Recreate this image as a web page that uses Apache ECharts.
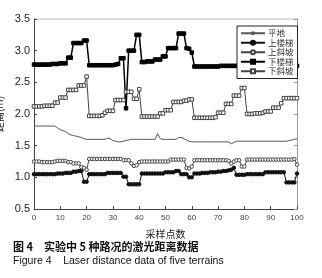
<!DOCTYPE html>
<html>
<head>
<meta charset="utf-8">
<script src="https://cdn.jsdelivr.net/npm/echarts@6/dist/echarts.min.js"></script>
<style>
  html, body { margin: 0; padding: 0; background: #fff; }
  #chart { width: 322px; height: 278px; }
</style>
</head>
<body>
<div id="chart"></div>
<script>
// sample index 0..100
var xTicks = [0, 10, 20, 30, 40, 50, 60, 70, 80, 90, 100];
var seriesNames = ['平地', '上楼梯', '上斜坡', '下楼梯', '下斜坡'];

var flat = [1.81,1.81,1.81,1.81,1.81,1.81,1.81,1.81,1.81,
  1.78,1.75,1.74,1.72,1.69,1.67,1.66,1.65,1.64,1.63,1.61,1.60,
  1.60,1.60,1.60,1.60,1.60,1.60,1.60,
  1.62,1.61,1.58,1.57,1.56,1.56,1.57,1.58,1.59,
  1.60,1.60,1.60,1.60,1.60,1.60,1.60,1.60,1.60,1.60,
  1.69,1.61,
  1.60,1.60,1.60,1.60,1.60,1.60,
  1.63,1.63,1.61,1.59,1.57,1.56,
  1.56,1.56,1.56,1.56,1.56,1.56,1.56,1.56,1.56,1.56,1.56,1.56,1.56,1.56,
  1.53,1.55,
  1.57,1.57,1.57,1.57,1.57,1.57,1.57,1.57,1.57,1.57,1.57,1.57,1.57,1.57,1.57,1.57,1.57,1.57,1.57,
  1.57,1.58,1.59,1.60,1.61];

var upStairs = [1.05,1.05,1.05,1.05,1.05,1.05,1.05,1.05,1.05,
  1.06,1.06,1.06,1.07,1.07,1.07,
  1.09,1.09,1.10,1.10,
  0.93,0.93,
  1.05,1.05,1.05,1.05,1.05,1.05,1.05,
  1.07,1.07,1.07,1.07,1.07,1.07,
  1.01,1.01,
  0.89,0.89,0.89,0.89,0.89,
  1.06,1.06,1.06,1.06,1.06,1.06,1.06,1.06,1.06,
  1.08,1.08,1.08,1.08,
  1.10,1.10,
  1.05,1.05,1.05,
  1.00,1.00,
  1.06,1.06,1.06,1.07,1.07,1.07,1.08,1.08,1.08,1.09,1.09,1.10,1.10,1.11,1.12,1.15,
  1.04,1.04,1.04,1.04,1.05,1.05,1.05,1.05,1.05,1.05,1.05,
  1.08,1.08,1.08,1.08,1.08,1.08,1.08,1.08,
  0.92,0.92,0.92,0.92,
  1.06];

var upSlope = [1.25,1.25,1.25,1.24,1.24,1.24,1.24,1.24,1.25,
  1.26,1.26,1.26,1.26,1.24,1.24,1.22,1.22,1.22,1.16,1.15,1.12,
  1.29,1.29,1.29,1.29,1.29,1.29,1.29,1.29,1.29,1.29,1.29,1.29,1.29,
  1.27,1.27,1.27,
  1.22,1.18,1.19,1.24,
  1.25,1.25,1.25,1.25,1.25,1.25,1.25,1.25,1.25,1.25,1.25,
  1.28,1.28,1.28,1.28,1.28,1.28,
  1.15,1.14,1.17,
  1.27,1.27,1.27,1.27,1.27,1.27,1.27,1.27,1.27,1.27,1.27,1.27,1.27,
  1.26,1.22,1.25,1.27,1.27,
  1.17,1.17,
  1.28,1.28,1.28,1.28,1.28,1.28,1.28,1.28,1.28,1.28,1.28,1.28,1.28,1.28,1.28,1.28,1.28,1.28,
  1.29,1.20];

var downStairs = [2.78,2.78,2.78,2.78,2.78,2.78,2.78,2.79,2.79,2.79,2.80,2.80,2.80,
  2.89,2.89,
  3.12,3.12,3.12,3.12,
  3.16,3.16,
  2.77,2.77,2.77,2.77,2.77,2.77,2.77,2.77,2.77,2.77,
  2.78,2.79,
  2.88,2.88,
  2.09,
  3.00,3.00,3.00,
  3.25,3.25,
  2.82,2.82,2.83,2.83,2.83,
  2.86,2.86,2.86,
  2.91,2.91,
  3.04,3.04,3.04,3.04,
  3.27,3.27,3.27,
  3.04,3.03,
  2.97,
  2.75,2.75,2.75,2.75,2.75,2.75,2.75,2.75,2.75,2.75,
  2.76,2.76,2.76,2.76,2.76,2.76,2.76,2.76,2.76,2.76,2.76,2.76,2.76,2.76,2.76,
  2.76,2.76,2.76,2.76,2.76,2.76,2.76,2.76,2.76,2.76,2.76,2.76,2.76,2.76,2.76];

var downSlope = [2.12,2.12,2.12,2.12,2.13,2.13,2.13,2.13,
  2.18,2.18,
  2.26,2.26,2.26,
  2.38,2.38,2.38,2.38,
  2.45,2.45,2.45,
  2.59,
  1.97,1.97,1.97,1.97,1.97,1.98,2.02,
  2.05,2.05,2.05,
  2.22,2.22,2.22,2.22,
  2.35,2.35,2.35,
  2.24,2.24,
  2.39,
  1.96,1.96,1.96,1.96,1.96,1.96,1.96,
  2.01,2.01,
  2.06,2.06,2.06,
  2.19,2.19,2.19,2.19,
  2.21,2.21,
  2.23,2.23,
  1.94,1.94,1.94,1.94,1.94,1.94,1.94,1.94,
  1.95,
  2.02,2.02,2.02,
  2.16,2.16,2.16,
  2.29,2.29,2.29,
  2.41,2.41,
  2.00,2.00,2.00,2.01,2.01,2.01,2.02,
  2.04,2.04,2.04,
  2.10,2.10,2.10,
  2.17,
  2.25,2.25,2.25,2.25,2.25,2.25];

function pairs(arr) {
  return arr.map(function (v, i) { return [i, v]; });
}

var numFont = 'Liberation Sans, Arial, sans-serif';
var cjkFont = 'Noto Sans CJK SC, sans-serif';

var chart = echarts.init(document.getElementById('chart'), null, { renderer: 'canvas' });

var markerLine = function (name, data, symbol, filled, color, width) {
  return {
    name: name,
    type: 'line',
    data: pairs(data),
    symbol: symbol,
    symbolSize: 3.5,
    showAllSymbol: true,
    animation: false,
    lineStyle: { color: color, width: width },
    itemStyle: {
      color: filled ? color : '#fff',
      borderColor: color,
      borderWidth: 1
    }
  };
};

var option = {
  animation: false,
  backgroundColor: '#fff',
  grid: { left: 34, right: 25, top: 19, bottom: 69, containLabel: false, outerBoundsMode: 'none' },
  legend: {
    orient: 'vertical',
    left: 237,
    top: 26,
    width: 62,
    padding: [3, 4, 3, 3],
    itemGap: 1,
    itemWidth: 24,
    itemHeight: 5,
    backgroundColor: '#fff',
    borderColor: '#222',
    borderWidth: 1,
    borderRadius: 0,
    textStyle: { fontSize: 8.5, fontFamily: cjkFont, color: '#333', lineHeight: 8, padding: [0, 0, 0, -2] },
    data: seriesNames
  },
  xAxis: {
    type: 'value',
    min: 0,
    max: 100,
    interval: 10,
    name: '采样点数',
    nameLocation: 'middle',
    nameGap: 20,
    nameTextStyle: { fontSize: 10, fontFamily: cjkFont, color: '#222' },
    axisLine: { show: true, lineStyle: { color: '#444', width: 1 } },
    axisTick: { inside: true, length: 3, lineStyle: { color: '#444' } },
    axisLabel: {
      fontSize: 8, fontFamily: numFont, color: '#444', margin: 5,
      formatter: function (v) { return xTicks.indexOf(v) >= 0 ? String(v) : ''; }
    },
    splitLine: { show: false }
  },
  yAxis: [{
    type: 'value',
    min: 0.5,
    max: 3.5,
    interval: 0.5,
    name: '距离(m)',
    nameLocation: 'middle',
    nameGap: 25,
    nameRotate: 90,
    nameTextStyle: { fontSize: 10, fontFamily: cjkFont, color: '#222' },
    axisLine: { show: true, lineStyle: { color: '#444', width: 1 } },
    axisTick: { show: true, inside: true, length: 3, lineStyle: { color: '#444' } },
    axisLabel: {
      fontSize: 11, fontFamily: numFont, color: '#222', margin: 4,
      formatter: function (v) { return v.toFixed(1); }
    },
    splitLine: { show: false }
  }, {
    type: 'value',
    min: 0.5,
    max: 3.5,
    interval: 0.5,
    position: 'right',
    axisLine: { show: true, lineStyle: { color: '#999', width: 1 } },
    axisTick: { show: true, inside: true, length: 3, lineStyle: { color: '#999' } },
    axisLabel: { show: false },
    splitLine: { show: false }
  }],
  graphic: [
    { type: 'line', shape: { x1: 34, y1: 19, x2: 297, y2: 19 }, style: { stroke: '#bbb', lineWidth: 1 } },
    { type: 'text', left: 13, top: 241, style: { text: '图 4　实验中 5 种路况的激光距离数据', font: 'bold 11px ' + cjkFont, fill: '#111' } },
    { type: 'text', left: 13, top: 256, style: { text: 'Figure 4    Laser distance data of five terrains', font: '10.5px ' + numFont, fill: '#111' } }
  ],
  series: [
    {
      name: '平地',
      type: 'line',
      data: pairs(flat),
      symbol: 'none',
      showSymbol: false,
      lineStyle: { color: '#555', width: 1 },
      itemStyle: { color: '#555' }
    },
    markerLine('上楼梯', upStairs, 'circle', true, '#111', 1),
    markerLine('上斜坡', upSlope, 'circle', false, '#444', 1),
    markerLine('下楼梯', downStairs, 'rect', true, '#000', 1.5),
    markerLine('下斜坡', downSlope, 'rect', false, '#444', 1)
  ]
};

chart.setOption(option);
</script>
</body>
</html>
